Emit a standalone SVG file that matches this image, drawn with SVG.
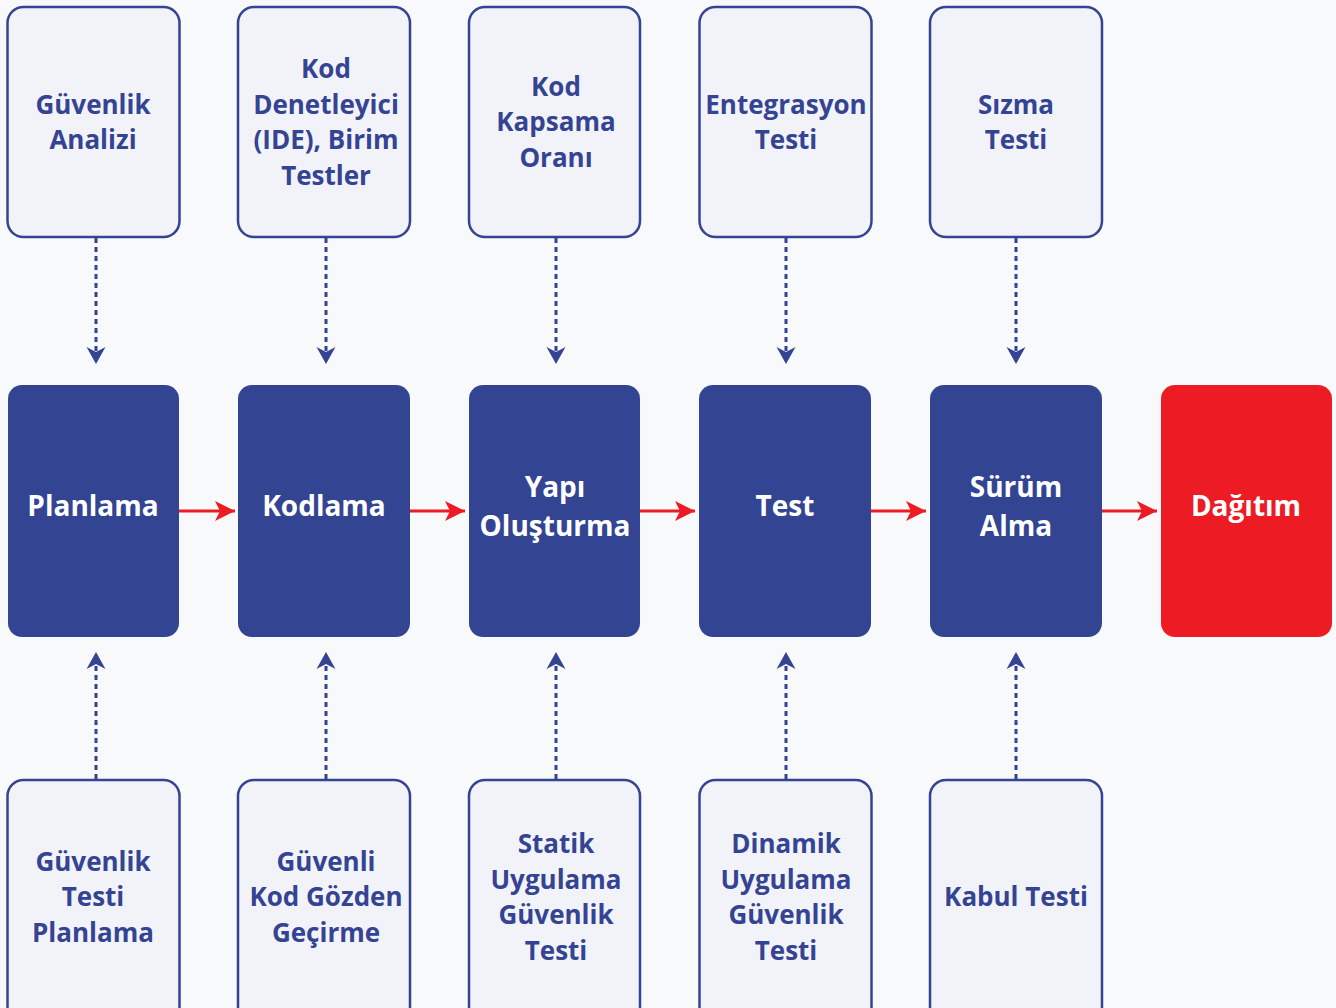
<svg xmlns="http://www.w3.org/2000/svg" width="1336" height="1008" viewBox="0 0 1336 1008">
  <defs>
    <style>
      .bg { fill: #f8f9fa; }
      .tool { fill: #f2f3f9; stroke: #344493; stroke-width: 2.5; }
      .stage { fill: #334493; }
      .final { fill: #ed1c24; }
      .tool-label { font-family: "Open Sans", "Noto Sans", "DejaVu Sans", sans-serif; font-weight: 700; font-size: 26px; fill: #344493; text-anchor: middle; }
      .stage-label { font-family: "Open Sans", "Noto Sans", "DejaVu Sans", sans-serif; font-weight: 700; font-size: 28px; fill: #ffffff; text-anchor: middle; }
      .dash { stroke: #344493; stroke-width: 3; stroke-dasharray: 5 4; fill: none; }
      .flow { stroke: #ed1c24; stroke-width: 3; fill: none; }
      .tip { fill: #344493; stroke: none; }
    </style>
    <!-- blue arrowheads, tip at the origin -->
    <path id="tip-down" d="M-9.5,-17 L0,0 L9.5,-17 L0,-12 Z"/>
    <path id="tip-up" d="M-9.5,17 L0,0 L9.5,17 L0,12 Z"/>
    <marker id="head-red" viewBox="0 0 20 20" refX="20" refY="10" markerWidth="20" markerHeight="20" markerUnits="userSpaceOnUse" orient="auto">
      <path d="M0,0 L20,10 L0,20 L5,10 Z" fill="#ed1c24"/>
    </marker>
  </defs>

  <rect class="bg" x="0" y="0" width="1336" height="1008"/>

  <!-- connectors -->
  <g id="connectors">
    <!-- tools feeding each stage from above -->
    <path class="dash" d="M96,238 V352"/>
    <path class="dash" d="M326,238 V352"/>
    <path class="dash" d="M556,238 V352"/>
    <path class="dash" d="M786,238 V352"/>
    <path class="dash" d="M1016,238 V352"/>
    <use class="tip" href="#tip-down" x="96" y="364"/>
    <use class="tip" href="#tip-down" x="326" y="364"/>
    <use class="tip" href="#tip-down" x="556" y="364"/>
    <use class="tip" href="#tip-down" x="786" y="364"/>
    <use class="tip" href="#tip-down" x="1016" y="364"/>
    <!-- tests feeding each stage from below -->
    <path class="dash" d="M96,779 V664"/>
    <path class="dash" d="M326,779 V664"/>
    <path class="dash" d="M556,779 V664"/>
    <path class="dash" d="M786,779 V664"/>
    <path class="dash" d="M1016,779 V664"/>
    <use class="tip" href="#tip-up" x="96" y="652"/>
    <use class="tip" href="#tip-up" x="326" y="652"/>
    <use class="tip" href="#tip-up" x="556" y="652"/>
    <use class="tip" href="#tip-up" x="786" y="652"/>
    <use class="tip" href="#tip-up" x="1016" y="652"/>
    <!-- pipeline flow -->
    <path class="flow" d="M179,511 H235" marker-end="url(#head-red)"/>
    <path class="flow" d="M410,511 H465" marker-end="url(#head-red)"/>
    <path class="flow" d="M640,511 H695" marker-end="url(#head-red)"/>
    <path class="flow" d="M871,511 H926" marker-end="url(#head-red)"/>
    <path class="flow" d="M1102,511 H1157" marker-end="url(#head-red)"/>
  </g>

  <!-- top row: tools -->
  <g id="guvenlik-analizi">
    <rect class="tool" x="7.5" y="7" width="172" height="230" rx="16"/>
    <text class="tool-label" x="93" y="114">Güvenlik</text>
    <text class="tool-label" x="93" y="149">Analizi</text>
  </g>
  <g id="kod-denetleyici">
    <rect class="tool" x="238" y="7" width="172" height="230" rx="16"/>
    <text class="tool-label" x="326" y="78">Kod</text>
    <text class="tool-label" x="326" y="114">Denetleyici</text>
    <text class="tool-label" x="326" y="149">(IDE), Birim</text>
    <text class="tool-label" x="326" y="185">Testler</text>
  </g>
  <g id="kod-kapsama">
    <rect class="tool" x="469" y="7" width="171" height="230" rx="16"/>
    <text class="tool-label" x="556" y="96">Kod</text>
    <text class="tool-label" x="556" y="131">Kapsama</text>
    <text class="tool-label" x="556" y="167">Oranı</text>
  </g>
  <g id="entegrasyon-testi">
    <rect class="tool" x="699.5" y="7" width="172" height="230" rx="16"/>
    <text class="tool-label" x="786" y="114">Entegrasyon</text>
    <text class="tool-label" x="786" y="149">Testi</text>
  </g>
  <g id="sizma-testi">
    <rect class="tool" x="930" y="7" width="172" height="230" rx="16"/>
    <text class="tool-label" x="1016" y="114">Sızma</text>
    <text class="tool-label" x="1016" y="149">Testi</text>
  </g>

  <!-- middle row: pipeline stages -->
  <g id="planlama">
    <rect class="stage" x="8" y="385" width="171" height="252" rx="14"/>
    <text class="stage-label" x="93" y="516">Planlama</text>
  </g>
  <g id="kodlama">
    <rect class="stage" x="238" y="385" width="172" height="252" rx="14"/>
    <text class="stage-label" x="324" y="516">Kodlama</text>
  </g>
  <g id="yapi-olusturma">
    <rect class="stage" x="469" y="385" width="171" height="252" rx="14"/>
    <text class="stage-label" x="555" y="497">Yapı</text>
    <text class="stage-label" x="555" y="536">Oluşturma</text>
  </g>
  <g id="test">
    <rect class="stage" x="699" y="385" width="172" height="252" rx="14"/>
    <text class="stage-label" x="785" y="516">Test</text>
  </g>
  <g id="surum-alma">
    <rect class="stage" x="930" y="385" width="172" height="252" rx="14"/>
    <text class="stage-label" x="1016" y="497">Sürüm</text>
    <text class="stage-label" x="1016" y="536">Alma</text>
  </g>
  <g id="dagitim">
    <rect class="final" x="1161" y="385" width="171" height="252" rx="14"/>
    <text class="stage-label" x="1246" y="516">Dağıtım</text>
  </g>

  <!-- bottom row: security tests -->
  <g id="guvenlik-testi-planlama">
    <rect class="tool" x="7.5" y="780" width="172" height="250" rx="16"/>
    <text class="tool-label" x="93" y="871">Güvenlik</text>
    <text class="tool-label" x="93" y="906">Testi</text>
    <text class="tool-label" x="93" y="942">Planlama</text>
  </g>
  <g id="guvenli-kod-gozden-gecirme">
    <rect class="tool" x="238" y="780" width="172" height="250" rx="16"/>
    <text class="tool-label" x="326" y="871">Güvenli</text>
    <text class="tool-label" x="326" y="906">Kod Gözden</text>
    <text class="tool-label" x="326" y="942">Geçirme</text>
  </g>
  <g id="statik-uygulama">
    <rect class="tool" x="469" y="780" width="171" height="250" rx="16"/>
    <text class="tool-label" x="556" y="853">Statik</text>
    <text class="tool-label" x="556" y="889">Uygulama</text>
    <text class="tool-label" x="556" y="924">Güvenlik</text>
    <text class="tool-label" x="556" y="960">Testi</text>
  </g>
  <g id="dinamik-uygulama">
    <rect class="tool" x="699.5" y="780" width="172" height="250" rx="16"/>
    <text class="tool-label" x="786" y="853">Dinamik</text>
    <text class="tool-label" x="786" y="889">Uygulama</text>
    <text class="tool-label" x="786" y="924">Güvenlik</text>
    <text class="tool-label" x="786" y="960">Testi</text>
  </g>
  <g id="kabul-testi">
    <rect class="tool" x="930" y="780" width="172" height="250" rx="16"/>
    <text class="tool-label" x="1016" y="906">Kabul Testi</text>
  </g>
</svg>
